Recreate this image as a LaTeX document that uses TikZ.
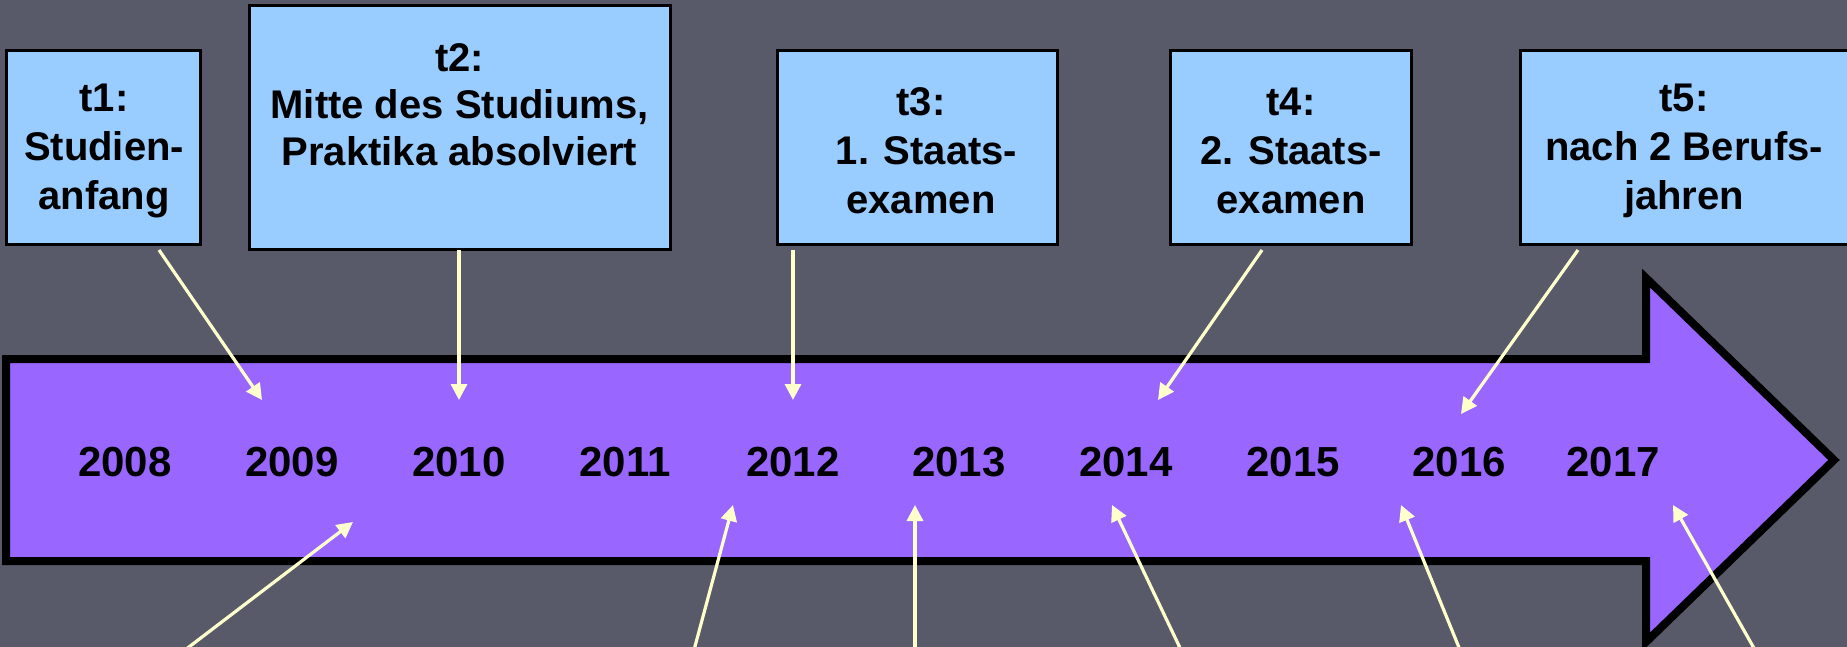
\documentclass[tikz,border=0pt]{standalone}
\usepackage{fontspec}
\setmainfont{Liberation Sans}
\usetikzlibrary{arrows.meta}
\definecolor{bgcol}{RGB}{88,90,106}
\definecolor{boxfill}{RGB}{153,204,255}
\definecolor{tlfill}{RGB}{153,102,255}
\definecolor{connc}{RGB}{255,255,204}
\begin{document}
\begin{tikzpicture}[x=0.5pt,y=-0.5pt,
  box/.style={draw=black, line width=1.5pt, fill=boxfill, inner sep=0pt},
  boxtext/.style={inner sep=0pt, align=center,
    font=\fontsize{20pt}{24pt}\selectfont\bfseries},
  year/.style={font=\fontsize{21pt}{25pt}\selectfont\bfseries, anchor=base, inner sep=0pt},
  conn/.style={draw=connc, line width=1.6pt, -{Triangle[length=8pt,width=8pt]}},
]
\fill[bgcol] (0,0) rectangle (1847,647);
\useasboundingbox (0,0) rectangle (1847,647);
\clip (0,0) rectangle (1847,647);

% timeline arrow
\draw[line width=4pt, fill=tlfill, miter limit=10]
  (6,359) -- (1646,359) -- (1646,278) -- (1834,460) -- (1646,642) -- (1646,561) -- (6,561) -- cycle;

% boxes
\node[box, minimum width=97pt, minimum height=96.5pt] (t1) at (103,147.5) {};
\node[box, minimum width=210.5pt, minimum height=121.5pt] (t2) at (459.5,127.5) {};
\node[box, minimum width=140pt, minimum height=96.5pt] (t3) at (917,147.5) {};
\node[box, minimum width=120.5pt, minimum height=96.5pt] (t4) at (1290.5,147.5) {};
\node[box, minimum width=166pt, minimum height=96.5pt] (t5) at (1686,147.5) {};

\node[boxtext] (t1text) at (104,151) {t1:\\[0.5pt]Studien-\\[0.5pt]anfang};
\node[boxtext] (t2text) at (459.5,105) {t2:\\[-0.5pt]Mitte des Studiums,\\[-0.5pt]Praktika absolviert};
\node[boxtext] (t3text) at (921,151) {t3:\\[0.5pt]\ 1. Staats-\\[0.5pt]examen};
\node[boxtext] (t4text) at (1291,151) {t4:\\[0.5pt]2. Staats-\\[0.5pt]examen};
\node[boxtext] (t5text) at (1684,151) {t5:\\[0.5pt]nach 2 Berufs-\\[0.5pt]jahren};

% years
\foreach \yr/\xx in {2008/125,2009/292,2010/459,2011/625,2012/793,2013/959,2014/1126,2015/1293,2016/1459,2017/1613}
  \node[year] (y\yr) at (\xx,476) {\yr};

% connector coordinates
\coordinate (s1) at (159,250);  \coordinate (e1) at (262,400);
\coordinate (s2) at (459,250);  \coordinate (e2) at (459,400);
\coordinate (s3) at (793,250);  \coordinate (e3) at (793,400);
\coordinate (s4) at (1262,250); \coordinate (e4) at (1158,400);
\coordinate (s5) at (1578,250); \coordinate (e5) at (1461,414);
\coordinate (u1) at (185,650);  \coordinate (v1) at (353,522);
\coordinate (u2) at (694,650);  \coordinate (v2) at (733,505);
\coordinate (u3) at (915,650);  \coordinate (v3) at (915,505);
\coordinate (u4) at (1181,650); \coordinate (v4) at (1112,505);
\coordinate (u5) at (1460,650); \coordinate (v5) at (1401,505);
\coordinate (u6) at (1755,650); \coordinate (v6) at (1673,505);

\foreach \i in {1,...,5} \draw[conn] (s\i) -- (e\i);
\foreach \i in {1,...,6} \draw[conn] (u\i) -- (v\i);
\end{tikzpicture}
\end{document}
